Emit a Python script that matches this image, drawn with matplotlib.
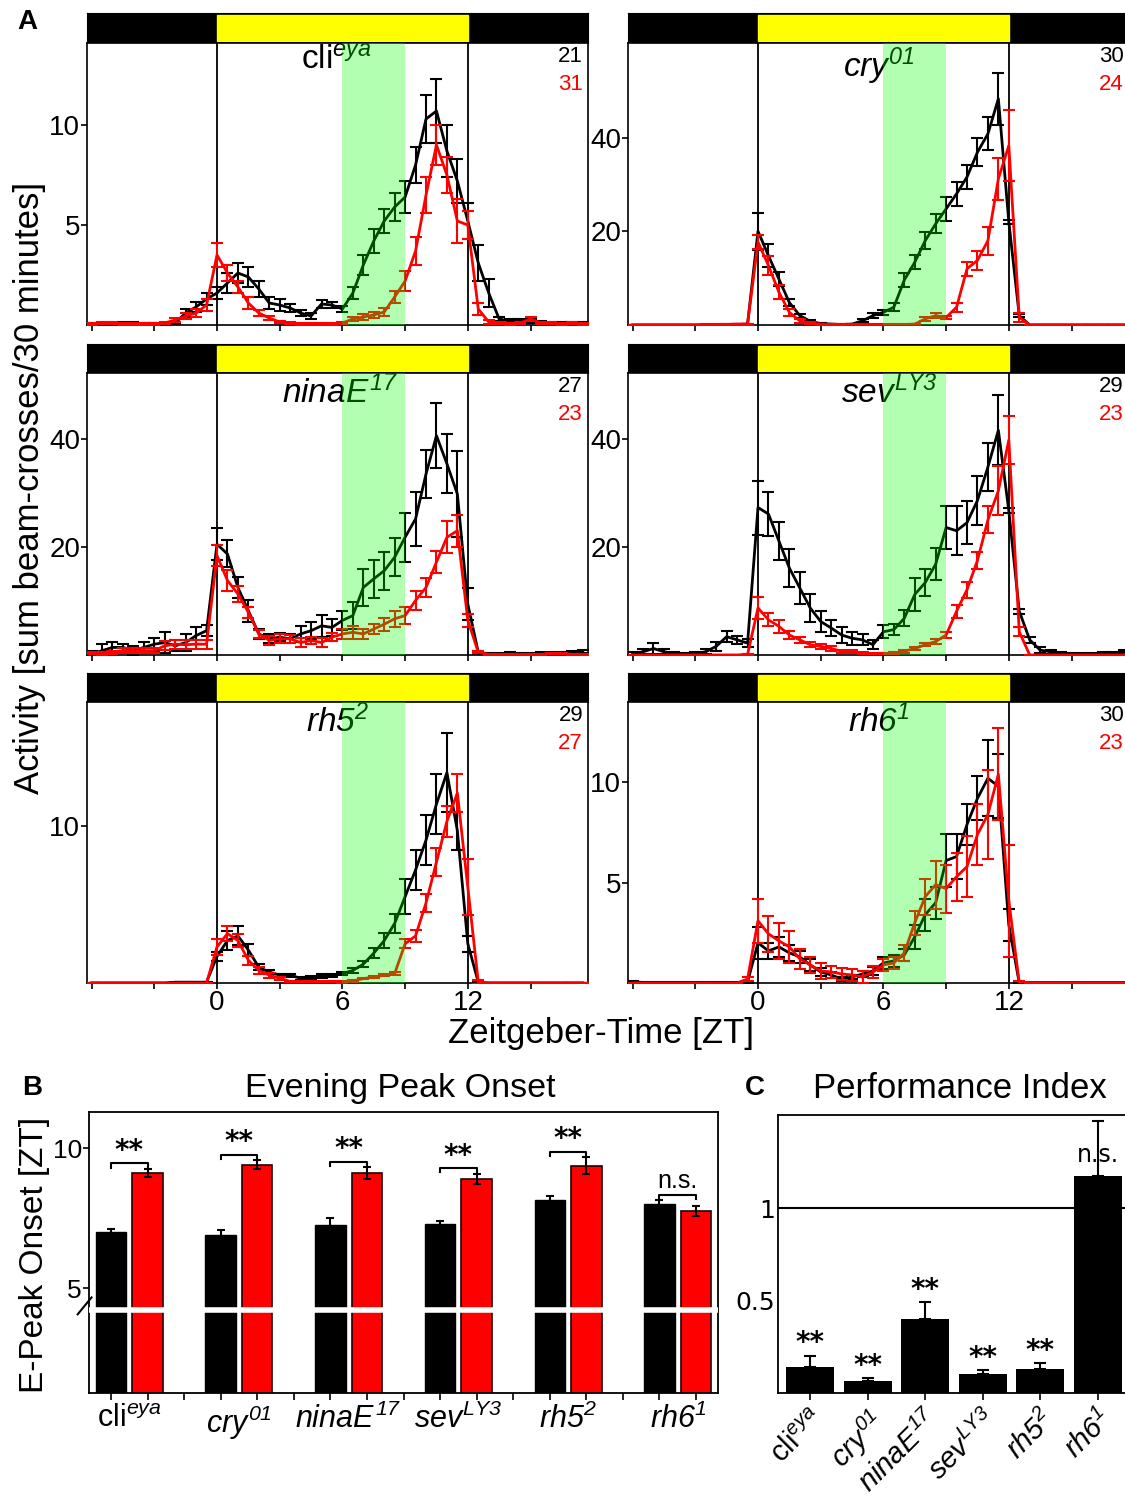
import numpy as np
import matplotlib
matplotlib.use("Agg")
import matplotlib.pyplot as plt

plt.rcParams['font.family'] = ['Liberation Sans', 'DejaVu Sans']
plt.rcParams['mathtext.fontset'] = 'custom'
plt.rcParams['mathtext.rm'] = 'Liberation Sans:italic'
plt.rcParams['mathtext.it'] = 'Liberation Sans:italic'
plt.rcParams['mathtext.bf'] = 'Liberation Sans:bold'

W, H = 1125, 1498

# === data: 30 min bins, ZT -6 .. 17.5 ===
zt = np.arange(-6, 18, 0.5)

cli_black = [0.05,0.05,0.05,0.1,0.1,0.05,0.05,0.05,0.1,0.6,0.9,1.3,
             1.6,2.1,2.6,2.4,1.8,1.1,1.0,0.85,0.6,0.45,1.05,1.0,
             0.8,1.6,3.0,4.2,5.2,5.9,6.4,8.0,10.3,10.7,8.7,7.2,
             5.2,3.1,1.6,0.3,0.2,0.2,0.2,0.1,0.1,0.1,0.1,0.1]
cli_black_sem = [0.05,0.05,0.05,0.05,0.05,0.05,0.05,0.05,0.05,0.2,0.25,0.3,
                 0.3,0.5,0.5,0.5,0.4,0.3,0.3,0.2,0.15,0.15,0.2,0.15,
                 0.15,0.3,0.5,0.6,0.6,0.7,0.8,0.9,1.2,1.6,1.3,1.1,
                 0.9,0.9,0.7,0.1,0.1,0.1,0.1,0.1,0.05,0.05,0.05,0.05]
cli_red = [0.05,0.1,0.1,0.05,0.05,0.05,0.05,0.1,0.25,0.45,0.6,1.0,
           3.5,2.6,1.9,1.1,0.6,0.35,0.15,0.1,0.05,0.05,0.05,0.05,
           0.1,0.3,0.4,0.5,0.65,1.4,2.2,3.7,6.5,9.0,7.5,5.2,
           5.0,0.8,0.15,0.1,0.05,0.1,0.3,0.1,0.1,0.05,0.1,0.05]
cli_red_sem = [0.05,0.05,0.05,0.05,0.05,0.05,0.05,0.05,0.1,0.15,0.2,0.3,
               0.6,0.4,0.3,0.3,0.15,0.1,0.05,0.05,0.05,0.05,0.05,0.05,
               0.05,0.1,0.15,0.15,0.2,0.3,0.5,0.7,0.9,1.0,0.9,1.1,
               0.7,0.3,0.1,0.05,0.05,0.05,0.1,0.05,0.05,0.05,0.05,0.05]

cry_black = [0,0,0,0,0,0,0,0,0,0.1,0.1,0.2,
             20.0,14.8,9.8,4.8,2.0,0.8,0.3,0.2,0.1,0.2,0.9,2.0,
             2.7,3.8,9.6,13.4,18.0,21.6,24.8,28.0,31.6,36.9,40.8,48.3,
             22.0,2.0,0,0,0,0,0,0,0,0,0,0]
cry_black_sem = [0,0,0,0,0,0,0,0,0,0.1,0.1,0.1,
                 4.0,2.5,1.5,0.8,0.4,0.2,0.1,0.1,0.1,0.1,0.3,0.5,
                 0.6,0.8,1.5,1.5,1.8,2.0,2.5,2.5,2.5,3.0,3.5,5.5,
                 0.5,0.3,0,0,0,0,0,0,0,0,0,0]
cry_red = [0,0,0,0,0,0,0,0.1,0.1,0.1,0.2,0.2,
           17.7,12.7,7.0,2.7,0.9,0.4,0.2,0.1,0.1,0.1,0.1,0.1,
           0.1,0.1,0.1,0.2,1.3,2.0,1.6,3.8,12.0,13.8,18.0,31.2,
           38.3,1.6,0,0,0,0,0,0,0,0,0,0]
cry_red_sem = [0,0,0,0,0,0,0,0.05,0.05,0.05,0.1,0.1,
               1.5,2.0,1.5,0.8,0.4,0.2,0.1,0.05,0.05,0.05,0.05,0.05,
               0.05,0.05,0.05,0.1,0.5,0.5,0.4,1.0,1.5,2.0,3.0,4.5,
               7.5,1.0,0,0,0,0,0,0,0,0,0,0]

ninaE_black = [0.2,0.8,1.4,1.4,0.8,1.4,2.0,2.3,1.7,2.3,3.6,4.5,
               20.5,18.7,12.5,8.2,3.9,3.0,3.3,3.0,3.9,4.5,5.4,5.1,
               6.4,7.3,12.5,14.1,15.6,18.1,21.8,25.2,33.5,40.6,35.4,29.8,
               9.4,0.5,0.2,0.2,0.3,0.2,0.2,0.3,0.3,0.4,0.5,0.6]
ninaE_black_sem = [0.5,1.2,1.0,0.6,0.8,1.0,1.2,2.0,1.0,1.5,1.5,1.0,
                   3.0,2.5,2.0,2.0,1.0,0.8,0.8,0.8,1.5,1.6,2.0,1.5,
                   1.8,2.5,3.5,3.5,3.5,3.5,4.5,5.0,4.5,6.0,5.5,8.0,
                   3.0,0.3,0.2,0.2,0.2,0.2,0.2,0.2,0.2,0.2,0.2,0.3]
ninaE_red = [0.3,0.3,0.5,0.8,0.8,0.8,0.8,1.7,2.0,1.9,2.0,2.0,
             18.4,13.8,11.3,7.9,3.9,2.7,3.0,3.0,2.3,2.7,2.3,3.3,
             3.9,4.2,3.9,4.8,5.7,6.7,7.3,10.1,12.5,17.2,21.8,23.0,
             6.4,0.5,0.1,0.1,0.1,0.1,0.1,0.1,0.3,0.3,0.1,0.1]
ninaE_red_sem = [0.2,0.3,0.3,0.5,0.5,0.5,0.5,0.8,0.8,0.8,0.8,0.8,
                 2.0,2.0,1.5,1.0,0.8,0.8,0.8,0.7,0.8,0.7,0.8,0.8,
                 1.0,1.2,1.0,1.0,1.2,1.5,1.5,1.8,1.8,2.0,3.0,3.0,
                 1.2,0.2,0.1,0.1,0.1,0.1,0.1,0.1,0.1,0.1,0.1,0.1]

sev_black = [0.3,0.6,1.2,0.6,0.3,0.1,0.3,0.6,1.6,3.4,2.8,2.2,
             27.3,26.1,21.1,16.1,12.4,8.7,6.2,5.0,3.7,3.1,2.8,1.9,
             4.3,4.7,6.8,11.2,13.4,16.8,23.6,23.0,24.5,28.6,34.8,41.6,
             26.7,8.1,2.8,0.9,0.6,0.3,0.2,0.2,0.2,0.3,0.4,0.6]
sev_black_sem = [0.3,0.5,1.0,0.5,0.3,0.2,0.3,0.5,0.8,1.0,0.8,0.8,
                 5.0,4.0,3.5,3.5,3.0,2.5,2.0,1.5,1.5,1.2,1.0,0.8,
                 1.2,1.0,1.5,3.0,2.5,3.0,4.0,4.5,4.0,4.5,4.5,6.5,
                 0.5,0.5,0.6,0.5,0.4,0.2,0.2,0.2,0.2,0.2,0.2,0.3]
sev_red = [0,0,0,0,0,0,0,0,0,0,0,0.1,
           8.7,6.5,5.3,3.7,2.8,1.9,1.6,1.2,0.7,0.6,0.3,0.2,
           0.2,0.3,0.7,1.2,1.9,2.5,3.7,8.1,12.1,17.5,25.0,30.4,
           39.8,4.3,0,0,0,0,0,0,0,0,0,0]
sev_red_sem = [0,0,0,0,0,0,0,0,0,0,0,0.05,
               2.0,1.2,1.2,0.8,0.6,0.5,0.4,0.4,0.3,0.3,0.2,0.1,
               0.1,0.2,0.3,0.3,0.3,0.4,0.6,1.2,1.5,1.5,2.5,4.5,
               4.5,0.8,0,0,0,0,0,0,0,0,0,0]

rh5_black = [0,0,0,0,0,0,0,0,0.05,0.05,0.05,0.05,
             1.7,2.7,3.0,2.1,1.0,0.7,0.5,0.5,0.3,0.35,0.45,0.5,
             0.6,0.8,1.2,1.9,2.7,3.8,5.5,7.2,9.1,11.4,13.4,9.7,
             2.5,0.05,0,0,0,0,0,0,0,0,0,0]
rh5_black_sem = [0,0,0,0,0,0,0,0,0.03,0.03,0.03,0.03,
                 0.3,0.6,0.6,0.4,0.2,0.1,0.1,0.1,0.1,0.1,0.1,0.1,
                 0.1,0.15,0.2,0.3,0.5,0.6,1.1,1.3,1.6,1.9,2.5,1.2,
                 0.5,0.05,0,0,0,0,0,0,0,0,0,0]
rh5_red = [0,0,0,0,0,0,0,0,0,0,0,0,
           2.3,3.15,2.7,1.45,0.8,0.5,0.3,0.1,0.1,0.1,0.1,0.1,
           0.06,0.13,0.28,0.38,0.5,0.6,2.5,3.0,5.1,7.7,10.3,12.1,
           6.1,0.06,0,0,0,0,0,0,0,0,0,0]
rh5_red_sem = [0,0,0,0,0,0,0,0,0,0,0,0,
               0.5,0.5,0.4,0.3,0.2,0.15,0.1,0.05,0.05,0.05,0.05,0.05,
               0.05,0.05,0.05,0.05,0.05,0.1,0.3,0.4,0.6,0.9,1.0,1.2,
               1.8,0.1,0,0,0,0,0,0,0,0,0,0]

rh6_black = [0.05,0.03,0.03,0.03,0.03,0.03,0.03,0.03,0.03,0.03,0.03,0.05,
             2.0,1.6,1.8,1.5,1.3,0.9,0.55,0.4,0.2,0.3,0.45,0.6,
             1.0,1.1,1.4,2.3,3.4,4.0,6.1,6.3,7.9,9.2,10.2,9.8,
             2.9,0,0.02,0.02,0.02,0.02,0.02,0.02,0.02,0.02,0.02,0.02]
rh6_black_sem = [0.03,0.03,0.03,0.03,0.03,0.03,0.03,0.03,0.03,0.03,0.03,0.03,
                 0.8,0.4,0.5,0.4,0.3,0.3,0.2,0.15,0.1,0.1,0.15,0.2,
                 0.3,0.3,0.3,0.6,0.8,0.8,1.3,1.1,1.0,1.1,1.9,1.6,
                 0.8,0.05,0,0,0,0,0,0,0,0,0,0]
rh6_red = [0,0,0,0,0,0,0,0,0,0,0,0.2,
           3.1,2.45,2.1,1.8,1.2,0.9,0.6,0.55,0.45,0.4,0.3,0.55,
           0.9,1.0,1.5,3.0,4.3,4.9,4.7,5.3,5.8,7.4,8.4,10.4,
           4.1,0,0,0,0,0,0,0,0,0,0,0]
rh6_red_sem = [0,0,0,0,0,0,0,0,0,0,0,0.1,
               1.1,0.9,0.9,0.8,0.5,0.4,0.4,0.3,0.3,0.3,0.3,0.3,
               0.3,0.3,0.4,0.6,0.9,1.2,1.2,1.2,1.5,1.5,2.2,2.3,
               2.8,0.1,0,0,0,0,0,0,0,0,0,0]

n_black = [21, 30, 27, 29, 29, 30]
n_red = [31, 24, 23, 23, 27, 23]

# B: evening peak onset
onset_black = [6.99, 6.91, 7.26, 7.29, 8.14, 8.01]
onset_black_sem = [0.12, 0.15, 0.24, 0.12, 0.15, 0.12]
onset_red = [9.10, 9.41, 9.10, 8.90, 9.37, 7.74]
onset_red_sem = [0.15, 0.15, 0.22, 0.18, 0.30, 0.18]
onset_sig = ['**', '**', '**', '**', '**', 'n.s.']

# C: performance index
perf = [0.143, 0.063, 0.402, 0.105, 0.130, 1.173]
perf_sem = [0.06, 0.016, 0.09, 0.02, 0.03, 0.30]
perf_sig = ['**', '**', '**', '**', '**', 'n.s.']

labels_up = [r'cli$^{eya}$', r'$cry^{01}$', r'$ninaE^{17}$',
             r'$sev^{LY3}$', r'$rh5^{2}$', r'$rh6^{1}$']

panels = [(cli_black, cli_black_sem, cli_red, cli_red_sem),
          (cry_black, cry_black_sem, cry_red, cry_red_sem),
          (ninaE_black, ninaE_black_sem, ninaE_red, ninaE_red_sem),
          (sev_black, sev_black_sem, sev_red, sev_red_sem),
          (rh5_black, rh5_black_sem, rh5_red, rh5_red_sem),
          (rh6_black, rh6_black_sem, rh6_red, rh6_red_sem)]
ymax = [14.1, 60.2, 52.2, 52.2, 17.9, 14.0]
yticks = [[5, 10], [20, 40], [20, 40], [20, 40], [10], [5, 10]]
label_x = [5.7, 5.8, 5.9, 6.3, 5.75, 5.8]

fig = plt.figure(figsize=(W / 100, H / 100), dpi=100)


def px_axes(x0, y0, x1, y1):
    return fig.add_axes([x0 / W, 1 - y1 / H, (x1 - x0) / W, (y1 - y0) / H])


cols = [(87, 588), (628, 1129)]
rows = [(13, 43, 325), (344, 373, 655), (673, 702, 983)]
xlim = (-6.22, 17.75)

# === A: activity profiles ===
for k in range(6):
    r, c = divmod(k, 2)
    x0, x1 = cols[c]
    yb0, yb1, yb2 = rows[r]
    mb, sb, mr, sr = panels[k]

    # light-dark bar
    axb = px_axes(x0, yb0, x1, yb1)
    axb.set_facecolor('black')
    axb.axvspan(0, 12, ymin=0.08, ymax=0.92, color='#ffff00')
    axb.set_xlim(*xlim)
    axb.set_xticks([])
    axb.set_yticks([])

    ax = px_axes(x0, yb1, x1, yb2)
    ax.axvline(0, color='k', lw=1.3, zorder=2)
    ax.axvline(12, color='k', lw=1.3, zorder=2)
    ax.errorbar(zt, mb, yerr=sb, color='k', lw=2, elinewidth=1.5,
                capsize=4, capthick=1.5, zorder=3)
    ax.errorbar(zt, mr, yerr=sr, color='#ff0000', lw=2, elinewidth=1.5,
                capsize=4, capthick=1.5, zorder=4)
    ax.axvspan(6, 9, color='#00ff00', alpha=0.3, lw=0, zorder=6)
    ax.text(label_x[k], 1 - 3 / 282, labels_up[k], transform=ax.get_xaxis_transform(),
            ha='center', va='top', fontsize=24, zorder=5)
    ax.text(1 - 5 / 501, 1 - 14 / 282, str(n_black[k]), transform=ax.transAxes,
            ha='right', va='center', fontsize=16, color='k')
    ax.text(1 - 5 / 501, 1 - 42 / 282, str(n_red[k]), transform=ax.transAxes,
            ha='right', va='center', fontsize=16, color='#ff0000')
    ax.set_xlim(*xlim)
    ax.set_ylim(0, ymax[k])
    ax.set_yticks(yticks[k])
    if r == 2:
        ax.set_xticks([-6, -3, 0, 3, 6, 9, 12, 15],
                      labels=['', '', '0', '', '6', '', '12', ''])
    else:
        ax.set_xticks([-6, -3, 0, 3, 6, 9, 12, 15], labels=[''] * 8)
    ax.tick_params(direction='out', length=4, width=1.2, labelsize=20, pad=1)
    for s in ax.spines.values():
        s.set_linewidth(1.2)

fig.text(27 / W, 1 - 22 / H, 'A', fontsize=20, fontweight='bold', ha='center', va='center')
fig.text(30 / W, 1 - 488 / H, 'Activity [sum beam-crosses/30 minutes]', rotation=90,
         fontsize=25, ha='center', va='center')
fig.text(601 / W, 1 - 1034 / H, 'Zeitgeber-Time [ZT]', fontsize=25, ha='center', va='center')

# === B: evening peak onset ===
axB = px_axes(89, 1112, 718, 1393)
pos_black = np.arange(6) * 3
pos_red = pos_black + 1
axB.bar(pos_black, onset_black, width=0.83, color='k', edgecolor='k', zorder=2)
axB.bar(pos_red, onset_red, width=0.83, color='#ff0000', edgecolor='#200000', lw=1.2, zorder=2)
axB.errorbar(pos_black, onset_black, yerr=onset_black_sem, fmt='none', ecolor='k',
             elinewidth=1.5, capsize=3, capthick=1.5, zorder=3)
axB.errorbar(pos_red, onset_red, yerr=onset_red_sem, fmt='none', ecolor='k',
             elinewidth=1.5, capsize=3, capthick=1.5, zorder=3)
axB.axhline(4.22, color='white', lw=4, zorder=4)
axB.plot([-0.018, 0.004], [0.28, 0.34], transform=axB.transAxes, color='k',
         lw=1.5, clip_on=False, zorder=5)
for i in range(6):
    xa, xb = pos_black[i], pos_red[i]
    top = max(onset_black[i] + onset_black_sem[i], onset_red[i] + onset_red_sem[i])
    yb = top + 0.2
    axB.plot([xa, xa, xb, xb], [yb - 0.15, yb, yb, yb - 0.15], color='k', lw=1.5)
    if onset_sig[i] == '**':
        axB.text((xa + xb) / 2, yb - 0.05, '**', ha='center', va='bottom',
                 fontsize=20, family='DejaVu Sans', fontweight='bold')
    else:
        axB.text((xa + xb) / 2, yb + 0.05, 'n.s.', ha='center', va='bottom', fontsize=18)
axB.set_xlim(-0.6, 16.6)
axB.set_ylim(1.25, 11.29)
axB.set_yticks([5, 10])
axB.set_xticks(np.arange(17), labels=[''] * 17)
axB.set_xticks(pos_black + 0.5, labels=labels_up, minor=True)
axB.tick_params(axis='x', which='minor', length=0, pad=8, labelsize=22)
axB.tick_params(axis='x', which='major', direction='out', length=5, width=1.2)
axB.tick_params(axis='y', direction='out', length=4, width=1.2, labelsize=19, pad=1)
for s in axB.spines.values():
    s.set_linewidth(1.3)
fig.text(32 / W, 1 - 1088 / H, 'B', fontsize=20, fontweight='bold', ha='center', va='center')
fig.text(400 / W, 1 - 1088 / H, 'Evening Peak Onset', fontsize=24.5, ha='center', va='center')
fig.text(35 / W, 1 - 1255 / H, 'E-Peak Onset [ZT]', rotation=90, fontsize=24,
         ha='center', va='center')

# === C: performance index ===
axC = px_axes(778, 1115, 1130, 1393)
pos = np.arange(6)
axC.axhline(1, color='k', lw=1.5, zorder=1)
axC.bar(pos, perf, width=0.83, color='k', zorder=2)
axC.errorbar(pos, perf, yerr=[np.zeros(6), perf_sem], fmt='none', ecolor='k',
             elinewidth=1.5, capsize=4, capthick=1.5, zorder=3)
for i in range(6):
    if perf_sig[i] == '**':
        axC.text(pos[i], perf[i] + perf_sem[i] - 0.01, '**', ha='center', va='bottom',
                 fontsize=20, family='DejaVu Sans', fontweight='bold')
    else:
        axC.text(pos[i], 1.29, 'n.s.', ha='center', va='center', fontsize=17,
                 family='DejaVu Sans')
axC.set_xlim(-0.56, 5.56)
axC.set_ylim(0, 1.505)
axC.set_yticks([0.5, 1], labels=['0.5', '1'], family='DejaVu Sans')
axC.set_xticks(pos, labels=labels_up, rotation=45, ha='right', rotation_mode='anchor')
axC.tick_params(axis='x', direction='out', length=5, width=1.2, labelsize=21, pad=4)
axC.tick_params(axis='y', length=0, labelsize=18, pad=2)
for s in axC.spines.values():
    s.set_linewidth(1.3)
fig.text(755 / W, 1 - 1088 / H, 'C', fontsize=20, fontweight='bold', ha='center', va='center')
fig.text(960 / W, 1 - 1088 / H, 'Performance Index', fontsize=25, ha='center', va='center')

fig.savefig('out.png', dpi=100)
